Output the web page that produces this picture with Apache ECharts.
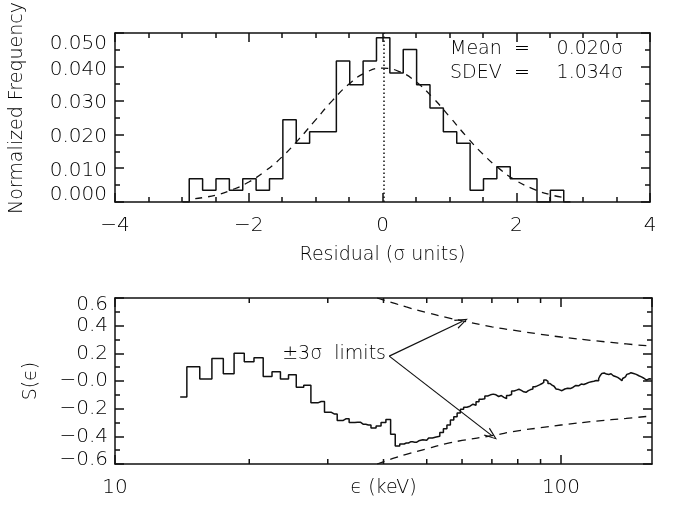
<!DOCTYPE html>
<html><head><meta charset="utf-8">
<script src="https://cdn.jsdelivr.net/npm/echarts@6/dist/echarts.min.js"></script>
<style>html,body{margin:0;padding:0;background:#fff}#c{width:676px;height:505px}</style>
</head><body><div id="c"></div>
<script>
// ---------- top panel: residual histogram ----------
const histCenters = [-2.99,-2.79,-2.59,-2.39,-2.19,-1.99,-1.79,-1.59,-1.39,-1.19,-0.99,-0.79,-0.59,-0.39,-0.19,0.01,0.21,0.41,0.61,0.81,1.01,1.21,1.41,1.61,1.81,2.01,2.21,2.41,2.61,2.81];
const histFreq = [0,0.0069,0.0035,0.0069,0.0035,0.0069,0.0035,0.0069,0.0243,0.0174,0.0208,0.0208,0.0417,0.0347,0.0417,0.0486,0.0382,0.0451,0.0347,0.0278,0.0208,0.0174,0.0035,0.0069,0.0104,0.0069,0.0069,0.0,0.0035,0];
const gaussX = [-2.8,-2.5,-2.25,-2,-1.75,-1.5,-1.25,-1,-0.75,-0.5,-0.25,0,0.25,0.5,0.75,1,1.25,1.5,1.75,2,2.25,2.5,2.7];
const gaussY = [0.0010,0.0020,0.0036,0.0059,0.0092,0.0134,0.0186,0.0243,0.0300,0.0349,0.0383,0.0396,0.0386,0.0356,0.0309,0.0253,0.0195,0.0142,0.0098,0.0063,0.0039,0.0022,0.0014];
const meanSigma = 0.020;
const statLines = [['Mean', '=', '0.020σ'], ['SDEV', '=', '1.034σ']];
const topYLabels = ['0.000','0.010','0.020','0.030','0.040','0.050'];

// ---------- bottom panel: S(eps) ----------
const sEnergy = [14,15,16,17,18,19,20,21,22,23,24,25,26,27,28,29,30,31,32,33,34,35,36,37,38,39,40,41,42,43,44,45,46,47,48,49,50,51,52,53,54,55,56,57,58,59,60,61,62,63,64,65,66,67,68,69,70,71,72,73,74,75,76,77,78,79,80,81,82,83,84,85,86,87,88,89,90,91,92,93,94,95,96,97,98,99,100,101,102,103,104,105,106,107,108,109,110,111,112,113,114,115,116,117,118,119,120,121,122,123,124,125,126,127,128,129,130,131,132,133,134,135,136,137,138,139,140,141,142,143,144,145,146,147,148,149,150,151,152,153,154,155,156,157,158,159,160];
const sValue = [-0.115,0.103,0.014,0.163,0.052,0.200,0.140,0.168,0.033,0.066,0.015,0.046,-0.046,-0.030,-0.158,-0.148,-0.225,-0.238,-0.285,-0.272,-0.300,-0.298,-0.312,-0.318,-0.340,-0.325,-0.300,-0.278,-0.385,-0.470,-0.455,-0.448,-0.440,-0.442,-0.432,-0.425,-0.428,-0.412,-0.405,-0.400,-0.372,-0.345,-0.318,-0.282,-0.258,-0.232,-0.205,-0.190,-0.182,-0.168,-0.175,-0.150,-0.132,-0.128,-0.108,-0.100,-0.095,-0.100,-0.112,-0.105,-0.118,-0.128,-0.105,-0.098,-0.072,-0.066,-0.060,-0.068,-0.078,-0.082,-0.070,-0.062,-0.058,-0.042,-0.035,-0.028,-0.020,-0.010,0.008,-0.002,-0.018,-0.030,-0.038,-0.045,-0.058,-0.062,-0.070,-0.063,-0.058,-0.052,-0.048,-0.055,-0.045,-0.040,-0.032,-0.035,-0.028,-0.022,-0.025,-0.015,-0.018,-0.010,-0.012,-0.005,-0.002,0.000,0.004,0.002,0.018,0.040,0.055,0.058,0.050,0.054,0.047,0.052,0.045,0.038,0.032,0.035,0.026,0.015,0.006,0.002,0.018,0.030,0.038,0.048,0.052,0.060,0.058,0.054,0.056,0.048,0.044,0.038,0.034,0.030,0.026,0.020,0.012,0.006,0.010,0.016,0.022,0.018,0.015];
const limitEnergy = [38.7,42,45,50,55,60,70,80,90,100,120,140,160];
const upperLimit = [0.60,0.565,0.535,0.495,0.462,0.435,0.392,0.362,0.338,0.318,0.290,0.268,0.252];
const lowerLimit = [-0.60,-0.56,-0.53,-0.49,-0.455,-0.43,-0.395,-0.36,-0.338,-0.318,-0.290,-0.270,-0.253];
const arrowFrom = [41.2, 0.18];
const arrowTo = [[60, 0.43], [70, -0.395]];
const limitText = '±3σ  limits';
const bottomYLabels = ['−0.6','−0.4','−0.2','−0.0','0.2','0.4','0.6'];
const logMajorLabels = {10: '10', 100: '100'};
const logMinorTicks = [20,30,40,50,60,70,80,90];

const FONT = 'DejaVu Sans';
const FW = 300;
const INK = '#000';
const LINE = '#111';
const zip = (a, b) => a.map((v, i) => [v, b[i]]);

const chart = echarts.init(document.getElementById('c'), null, {renderer: 'canvas'});

const lineAx = {show: true, onZero: false, lineStyle: {color: LINE, width: 1.5}};
const tickIn = {show: true, inside: true, length: 9, lineStyle: {color: LINE, width: 1.5}};
const minorIn = n => ({show: true, splitNumber: n, length: 5, lineStyle: {color: LINE, width: 1.5}});
const noSplit = {show: false};
const lab = (extra) => Object.assign({color: INK, fontFamily: FONT, fontWeight: FW, fontSize: 20, hideOverlap: false}, extra);
const rs = pad => ({fontFamily: FONT, fontWeight: FW, fontSize: 20, color: INK, padding: pad});
// labels nudged as in the original (extreme ones pulled inside the frame)
const edgeRich = {
  mid: rs([5, 0, 0, 0]),
  plain: rs([0, 0, 0, 0]),
  topIn: rs([22, 0, 0, 0]),
  botIn: rs([0, 0, 14, 0]),
  topIn2: rs([14, 0, 0, 0]),
  botIn2: rs([0, 0, 8, 0])
};

const topXFmt = v => (v < 0 ? '−' : '') + Math.abs(v);
const topYFmt = v => {
  const i = Math.round(v / 0.01);
  const s = topYLabels[i];
  if (i === 0) return '{botIn|' + s + '}';
  if (i === topYLabels.length - 1) return '{topIn|' + s + '}';
  return '{mid|' + s + '}';
};
const botYFmt = v => {
  const i = Math.round((v + 0.6) / 0.2);
  const s = bottomYLabels[i];
  if (i === 0) return '{botIn2|' + s + '}';
  if (i === bottomYLabels.length - 1) return '{topIn2|' + s + '}';
  return '{plain|' + s + '}';
};
const logFmt = v => logMajorLabels[Math.round(v)] || '';

const arrowHead = 'path://M5 0 L10 13 L8.6 13 L5 2.8 L1.4 13 L0 13 Z';
const nameStyle = {color: INK, fontFamily: FONT, fontWeight: FW, fontSize: 19};
const txt = (t, x, y, align, rot) => ({type: 'text', x: x, y: y, rotation: rot || 0,
  style: {text: t, fontFamily: FONT, fontWeight: FW, fontSize: 19, fill: INK, align: align, verticalAlign: 'middle'}});

const option = {
  animation: false,
  backgroundColor: '#fff',
  grid: [
    {left: 115, top: 33, width: 535, height: 169, containLabel: false, outerBoundsMode: 'none'},
    {left: 115, top: 298, width: 537, height: 166, containLabel: false, outerBoundsMode: 'none'}
  ],
  xAxis: [
    {gridIndex: 0, type: 'value', min: -4, max: 4, interval: 2, position: 'bottom',
     axisLine: lineAx, axisTick: tickIn, minorTick: minorIn(4), splitLine: noSplit,
     axisLabel: lab({formatter: topXFmt, margin: 14}),
     name: 'Residual (σ units)', nameLocation: 'middle', nameGap: 44, nameMoveOverlap: false,
     nameTextStyle: nameStyle},
    {gridIndex: 0, type: 'value', min: -4, max: 4, interval: 2, position: 'top',
     axisLine: lineAx, axisTick: tickIn, minorTick: minorIn(4), splitLine: noSplit,
     axisLabel: {show: false}},
    {gridIndex: 1, type: 'log', logBase: 10, min: 10, max: 160, position: 'bottom',
     axisLine: lineAx, axisTick: tickIn, splitLine: noSplit,
     axisLabel: lab({formatter: logFmt, margin: 14, showMaxLabel: false}),
     name: 'ϵ (keV)', nameLocation: 'middle', nameGap: 15, nameMoveOverlap: false,
     nameTextStyle: nameStyle},
    {gridIndex: 1, type: 'log', logBase: 10, min: 10, max: 160, position: 'top',
     axisLine: lineAx, axisTick: tickIn, splitLine: noSplit, axisLabel: {show: false}}
  ],
  yAxis: [
    {gridIndex: 0, type: 'value', min: 0, max: 0.05, interval: 0.01, position: 'left',
     axisLine: lineAx, axisTick: tickIn, minorTick: minorIn(2), splitLine: noSplit,
     axisLabel: lab({formatter: topYFmt, margin: 8, showMinLabel: true, showMaxLabel: true, rich: edgeRich})},
    {gridIndex: 0, type: 'value', min: 0, max: 0.05, interval: 0.01, position: 'right',
     axisLine: lineAx, axisTick: tickIn, minorTick: minorIn(2), splitLine: noSplit, axisLabel: {show: false}},
    {gridIndex: 1, type: 'value', min: -0.6, max: 0.6, interval: 0.2, position: 'left',
     axisLine: lineAx, axisTick: tickIn, minorTick: minorIn(2), splitLine: noSplit,
     axisLabel: lab({formatter: botYFmt, margin: 7, showMinLabel: true, showMaxLabel: true, rich: edgeRich})},
    {gridIndex: 1, type: 'value', min: -0.6, max: 0.6, interval: 0.2, position: 'right',
     axisLine: lineAx, axisTick: tickIn, minorTick: minorIn(2), splitLine: noSplit, axisLabel: {show: false}}
  ],
  series: [
    {type: 'line', name: 'hist', xAxisIndex: 0, yAxisIndex: 0, step: 'middle',
     data: zip(histCenters, histFreq), symbol: 'none',
     lineStyle: {color: LINE, width: 1.5},
     markLine: {silent: true, symbol: 'none', label: {show: false},
       lineStyle: {color: LINE, width: 1.5, type: [1.5, 2.5]},
       data: [{xAxis: meanSigma}]}},
    {type: 'line', name: 'gauss', xAxisIndex: 0, yAxisIndex: 0, smooth: true,
     data: zip(gaussX, gaussY), symbol: 'none',
     lineStyle: {color: LINE, width: 1.3, type: [7, 6]}},
    {type: 'line', name: 'S', xAxisIndex: 2, yAxisIndex: 2, step: 'middle',
     data: zip(sEnergy, sValue), symbol: 'none',
     lineStyle: {color: LINE, width: 1.5},
     markLine: {silent: true, symbol: ['none', arrowHead], symbolSize: [10, 13],
       label: {show: false}, lineStyle: {color: LINE, width: 1.2, type: 'solid'},
       data: arrowTo.map(t => [{coord: arrowFrom}, {coord: t}])}},
    {type: 'line', name: 'upper', xAxisIndex: 2, yAxisIndex: 2, smooth: true,
     data: zip(limitEnergy, upperLimit), symbol: 'none',
     lineStyle: {color: LINE, width: 1.3, type: [8, 6]}},
    {type: 'line', name: 'lower', xAxisIndex: 2, yAxisIndex: 2, smooth: true,
     data: zip(limitEnergy, lowerLimit), symbol: 'none',
     lineStyle: {color: LINE, width: 1.3, type: [8, 6]}},
    {type: 'custom', name: 'logMinor', xAxisIndex: 2, yAxisIndex: 2, silent: true, clip: false,
     data: logMinorTicks.map(v => [v, 0]),
     renderItem: function (params, api) {
       const e = api.value(0);
       const b = api.coord([e, -0.6]);
       const t = api.coord([e, 0.6]);
       const st = {stroke: LINE, lineWidth: 1.5};
       return {type: 'group', children: [
         {type: 'line', shape: {x1: b[0], y1: b[1], x2: b[0], y2: b[1] - 5}, style: st},
         {type: 'line', shape: {x1: t[0], y1: t[1], x2: t[0], y2: t[1] + 5}, style: st}
       ]};
     }}
  ],
  graphic: [
    txt('Normalized Frequency', 17, 108, 'center', Math.PI / 2),
    txt('S(ϵ)', 31, 381, 'center', Math.PI / 2),
    txt(limitText, 386, 354, 'right')
  ].concat(statLines.flatMap((row, i) => [
    txt(row[0], 450, 49 + i * 24, 'left'),
    txt(row[1], 522, 49 + i * 24, 'center'),
    txt(row[2], 623, 49 + i * 24, 'right')
  ]))
};
chart.setOption(option);
</script>
</body></html>
